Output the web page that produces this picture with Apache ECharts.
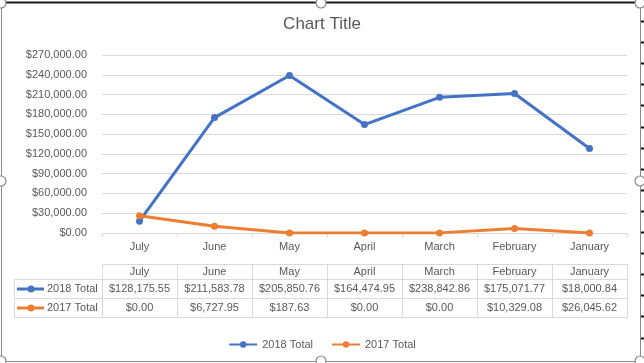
<!DOCTYPE html>
<html>
<head>
<meta charset="utf-8">
<script src="https://cdn.jsdelivr.net/npm/echarts@6/dist/echarts.min.js"></script>
<style>
html,body{margin:0;padding:0;background:#fff;}
#c{width:644px;height:363px;}
</style>
</head>
<body>
<div id="c"></div>
<script>
// Plotted data (as drawn in the chart)
var categories = ['July', 'June', 'May', 'April', 'March', 'February', 'January'];
var total2018 = [18000.84, 175071.77, 238842.86, 164474.95, 205850.76, 211583.78, 128175.55];
var total2017 = [26045.62, 10329.08, 0, 0, 187.63, 6727.95, 0];
// Data table values (as printed in the table under the chart)
var table2018 = [128175.55, 211583.78, 205850.76, 164474.95, 238842.86, 175071.77, 18000.84];
var table2017 = [0, 6727.95, 187.63, 0, 0, 10329.08, 26045.62];
var seriesNames = ['2018 Total', '2017 Total'];
var yTicks = {min: 0, max: 270000, step: 30000};

var FONT = 'Liberation Sans, Arial, sans-serif';
var TXT = '#595959';
var GRID = '#d9d9d9';
var BLUE = '#4472C4';
var ORANGE = '#ED7D31';

function money(v) {
  return '$' + Number(v).toLocaleString('en-US', {minimumFractionDigits: 2, maximumFractionDigits: 2});
}

var chart = echarts.init(document.getElementById('c'), null, {renderer: 'canvas'});
var option = {
  animation: false,
  backgroundColor: '#fff',
  textStyle: {fontFamily: FONT},
  title: {
    text: 'Chart Title', left: 'center', top: 11,
    textStyle: {fontSize: 17, fontWeight: 'normal', color: TXT, fontFamily: FONT}
  },
  grid: {left: 102, right: 17, top: 55, bottom: 130, containLabel: false},
  legend: {
    data: seriesNames, top: 334, left: 'center', itemWidth: 28, itemHeight: 8, itemGap: 18,
    textStyle: {fontSize: 11, color: TXT, fontFamily: FONT}
  },
  xAxis: {
    type: 'category', data: categories, boundaryGap: true,
    axisLine: {lineStyle: {color: GRID, width: 1}},
    axisTick: {show: true, length: 4, interval: 0, lineStyle: {color: GRID}},
    axisLabel: {fontSize: 11, color: TXT, margin: 8, interval: 0, fontFamily: FONT}
  },
  yAxis: {
    type: 'value', min: yTicks.min, max: yTicks.max, interval: yTicks.step,
    axisLine: {show: false}, axisTick: {show: false},
    axisLabel: {fontSize: 11, color: TXT, margin: 15, formatter: money, fontFamily: FONT},
    splitLine: {lineStyle: {color: GRID, width: 1}}
  },
  series: [
    {name: seriesNames[0], type: 'line', data: total2018, symbol: 'circle', symbolSize: 7,
     lineStyle: {width: 3, color: BLUE}, itemStyle: {color: BLUE}},
    {name: seriesNames[1], type: 'line', data: total2017, symbol: 'circle', symbolSize: 7,
     lineStyle: {width: 3, color: ORANGE}, itemStyle: {color: ORANGE}}
  ]
};
chart.setOption(option);

// Build the data table and frame from the axis positions
var x0 = chart.convertToPixel({xAxisIndex: 0}, 0);
var x1 = chart.convertToPixel({xAxisIndex: 0}, 1);
var band = x1 - x0;
var left = x0 - band / 2;
var right = left + band * categories.length;
var tblLeft = 14;
var rowY = [264, 279, 298, 317];
var g = [];
function hline(xa, xb, y) {
  g.push({type: 'line', shape: {x1: xa, y1: y + 0.5, x2: xb, y2: y + 0.5}, style: {stroke: GRID, lineWidth: 1}, silent: true});
}
function vline(x, ya, yb) {
  g.push({type: 'line', shape: {x1: Math.round(x) + 0.5, y1: ya, x2: Math.round(x) + 0.5, y2: yb}, style: {stroke: GRID, lineWidth: 1}, silent: true});
}
function txt(s, x, y, align) {
  g.push({type: 'text', x: x, y: y, silent: true,
    style: {text: s, fill: TXT, font: '11px ' + FONT, align: align || 'center', verticalAlign: 'middle'}});
}
hline(left, right, rowY[0]);
hline(tblLeft, right, rowY[1]);
hline(tblLeft, right, rowY[2]);
hline(tblLeft, right, rowY[3]);
vline(tblLeft, rowY[1], rowY[3] + 1);
for (var i = 0; i <= categories.length; i++) {
  vline(left + band * i, rowY[0], rowY[3] + 1);
}
for (var j = 0; j < categories.length; j++) {
  var cx = chart.convertToPixel({xAxisIndex: 0}, j);
  txt(categories[j], cx, (rowY[0] + rowY[1]) / 2 + 0.5);
  txt(money(table2018[j]), cx, (rowY[1] + rowY[2]) / 2 + 0.5);
  txt(money(table2017[j]), cx, (rowY[2] + rowY[3]) / 2 + 0.5);
}
var keyColors = [BLUE, ORANGE];
for (var k = 0; k < 2; k++) {
  var yy = (rowY[1 + k] + rowY[2 + k]) / 2 + 0.5;
  g.push({type: 'line', shape: {x1: 17, y1: yy, x2: 44, y2: yy}, style: {stroke: keyColors[k], lineWidth: 3}, silent: true});
  g.push({type: 'circle', shape: {cx: 31, cy: yy, r: 3.5}, style: {fill: keyColors[k]}, silent: true});
  txt(seriesNames[k], 47, yy, 'left');
}
// Frame (selected chart object)
g.push({type: 'line', shape: {x1: 1.5, y1: 3, x2: 1.5, y2: 361}, style: {stroke: '#8a8a8a', lineWidth: 1}, silent: true});
g.push({type: 'line', shape: {x1: 640.5, y1: 3, x2: 640.5, y2: 361}, style: {stroke: '#8a8a8a', lineWidth: 1}, silent: true});
g.push({type: 'line', shape: {x1: 1, y1: 361.5, x2: 641, y2: 361.5}, style: {stroke: '#8a8a8a', lineWidth: 1}, silent: true});
g.push({type: 'line', shape: {x1: 0, y1: 2.5, x2: 644, y2: 2.5}, style: {stroke: '#1a1a1a', lineWidth: 2}, silent: true});
for (var m = 0; m < 16; m++) {
  var my = Math.round(21 + m * 21.1) + 0.5;
  g.push({type: 'line', shape: {x1: 641, y1: my, x2: 644, y2: my}, style: {stroke: '#111', lineWidth: 2}, silent: true});
}
var handles = [[1, 3], [321, 3], [640, 3], [1, 181], [640, 181], [1, 361], [321, 361], [640, 361]];
handles.forEach(function (h) {
  g.push({type: 'circle', shape: {cx: h[0], cy: h[1], r: 5}, style: {fill: '#fff', stroke: '#8a8a8a', lineWidth: 1.2}, silent: true, z: 200});
});
chart.setOption({graphic: {elements: g}});
</script>
</body>
</html>
